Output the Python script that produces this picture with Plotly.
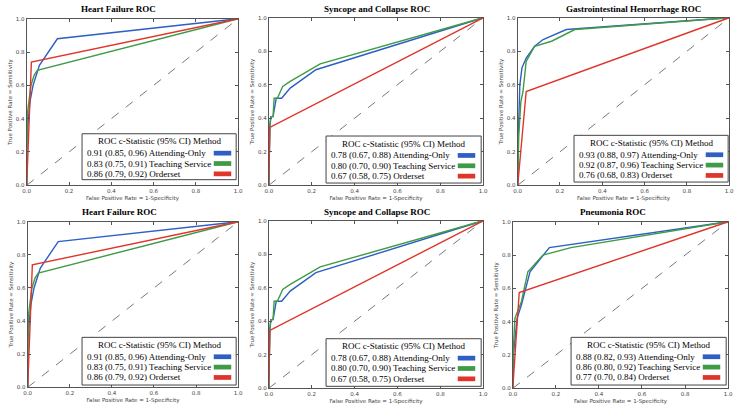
import plotly.graph_objects as go

W, H = 745, 411

# ---------------- data ----------------
titles = ["Heart Failure ROC", "Syncope and Collapse ROC", "Gastrointestinal Hemorrhage ROC",
          "Heart Failure ROC", "Syncope and Collapse ROC", "Pneumonia ROC"]
methods = ["Attending-Only", "Teaching Service", "Orderset"]
tick_vals = [0.0, 0.2, 0.4, 0.6, 0.8, 1.0]
tick_text = ["0.0", "0.2", "0.4", "0.6", "0.8", "1.0"]

hf_att_fpr = [0.0, 0.0, 0.015, 0.03, 0.06, 0.145, 1.0]
hf_att_tpr = [0.0, 0.28, 0.5, 0.6, 0.72, 0.88, 1.0]
hf_teach_fpr = [0.0, 0.003, 0.02, 0.035, 0.05, 1.0]
hf_teach_tpr = [0.0, 0.43, 0.6, 0.66, 0.69, 1.0]
hf_order_fpr = [0.0, 0.02, 0.022, 1.0]
hf_order_tpr = [0.0, 0.6, 0.74, 1.0]
hf_stats = ["0.91 (0.85, 0.96)", "0.83 (0.75, 0.91)", "0.86 (0.79, 0.92)"]

sc_att_fpr = [0.0, 0.005, 0.01, 0.02, 0.035, 0.06, 0.1, 0.22, 1.0]
sc_att_tpr = [0.0, 0.35, 0.41, 0.41, 0.52, 0.52, 0.58, 0.69, 1.0]
sc_teach_fpr = [0.0, 0.005, 0.01, 0.02, 0.025, 0.04, 0.065, 0.1, 0.24, 1.0]
sc_teach_tpr = [0.0, 0.36, 0.41, 0.41, 0.52, 0.52, 0.59, 0.62, 0.725, 1.0]
sc_order_fpr = [0.0, 0.005, 1.0]
sc_order_tpr = [0.0, 0.345, 1.0]
sc_stats = ["0.78 (0.67, 0.88)", "0.80 (0.70, 0.90)", "0.67 (0.58, 0.75)"]

gi_att_fpr = [0.0, 0.003, 0.01, 0.02, 0.04, 0.08, 0.12, 0.23, 1.0]
gi_att_tpr = [0.0, 0.3, 0.6, 0.7, 0.76, 0.83, 0.87, 0.93, 1.0]
gi_teach_fpr = [0.0, 0.005, 0.015, 0.025, 0.04, 0.08, 0.16, 0.27, 1.0]
gi_teach_tpr = [0.0, 0.3, 0.5, 0.56, 0.74, 0.83, 0.86, 0.93, 1.0]
gi_order_fpr = [0.0, 0.04, 1.0]
gi_order_tpr = [0.0, 0.56, 1.0]
gi_stats = ["0.93 (0.88, 0.97)", "0.92 (0.87, 0.96)", "0.76 (0.68, 0.83)"]

pn_att_fpr = [0.0, 0.003, 0.02, 0.04, 0.08, 0.17, 1.0]
pn_att_tpr = [0.0, 0.2, 0.42, 0.5, 0.7, 0.845, 1.0]
pn_teach_fpr = [0.0, 0.003, 0.01, 0.04, 0.07, 0.14, 0.27, 1.0]
pn_teach_tpr = [0.0, 0.25, 0.42, 0.52, 0.7, 0.8, 0.845, 1.0]
pn_order_fpr = [0.0, 0.03, 1.0]
pn_order_tpr = [0.0, 0.575, 1.0]
pn_stats = ["0.88 (0.82, 0.93)", "0.86 (0.80, 0.92)", "0.77 (0.70, 0.84)"]

panels = [
    ([(hf_att_fpr, hf_att_tpr), (hf_teach_fpr, hf_teach_tpr), (hf_order_fpr, hf_order_tpr)], hf_stats),
    ([(sc_att_fpr, sc_att_tpr), (sc_teach_fpr, sc_teach_tpr), (sc_order_fpr, sc_order_tpr)], sc_stats),
    ([(gi_att_fpr, gi_att_tpr), (gi_teach_fpr, gi_teach_tpr), (gi_order_fpr, gi_order_tpr)], gi_stats),
    ([(hf_att_fpr, hf_att_tpr), (hf_teach_fpr, hf_teach_tpr), (hf_order_fpr, hf_order_tpr)], hf_stats),
    ([(sc_att_fpr, sc_att_tpr), (sc_teach_fpr, sc_teach_tpr), (sc_order_fpr, sc_order_tpr)], sc_stats),
    ([(pn_att_fpr, pn_att_tpr), (pn_teach_fpr, pn_teach_tpr), (pn_order_fpr, pn_order_tpr)], pn_stats),
]

# ---------------- layout geometry (pixels) ----------------
colors = ["#2d5fc4", "#3f9b45", "#e0352b"]
# axes boxes: x0, x1, ytop, ybottom
boxes = [(23, 237, 16, 185), (268, 485, 15, 185), (520, 734, 15, 185),
         (24, 237, 222, 390), (268, 485, 221, 391), (515, 733, 222, 391)]
title_cx = [116, 378, 637, 117, 378, 616]
title_cy = [6, 6, 6, 212, 212, 212]
# legend boxes: left, right, top, bottom
leg_boxes = [(79, 235, 132.7, 179.3), (326, 483, 135, 182.7), (577, 733, 134.3, 181.7),
             (79, 235, 339.3, 387.7), (326, 483, 340.7, 389), (574, 731, 339.3, 387.7)]


def fx(x):
    return x / W


def fy(y):
    return 1 - y / H


fig = go.Figure()
shapes = []
annotations = []
layout = dict(width=W, height=H, autosize=False, margin=dict(l=0, r=0, t=0, b=0),
              paper_bgcolor="white", plot_bgcolor="white", showlegend=False)

axis_font = dict(family="DejaVu Sans", size=5.5, color="#444")
frame_col = "#555"

for i, ((curves, stats), box) in enumerate(zip(panels, boxes)):
    n = i + 1
    xa = f"x{n}" if n > 1 else "x"
    ya = f"y{n}" if n > 1 else "y"
    x0, x1, yt, yb = box
    common = dict(range=[0, 1], tickvals=tick_vals, ticktext=tick_text, ticks="inside",
                  ticklen=3, tickcolor=frame_col, tickwidth=0.8, showgrid=False, zeroline=False,
                  showline=True, linecolor=frame_col, linewidth=1, mirror="ticks",
                  tickfont=axis_font, fixedrange=True)
    layout[f"xaxis{n}" if n > 1 else "xaxis"] = dict(
        common, domain=[fx(x0), fx(x1)], anchor=ya,
        title=dict(text="False Positive Rate = 1-Specificity", font=axis_font, standoff=3))
    layout[f"yaxis{n}" if n > 1 else "yaxis"] = dict(
        common, domain=[fy(yb), fy(yt)], anchor=xa,
        title=dict(text="True Positive Rate = Sensitivity", font=axis_font, standoff=2))

    # diagonal reference
    fig.add_trace(go.Scatter(x=[0, 1], y=[0, 1], mode="lines", xaxis=xa, yaxis=ya,
                             line=dict(color="#555", width=0.8, dash="dash"), hoverinfo="skip"))
    for (fpr, tpr), c, m in zip(curves, colors, methods):
        fig.add_trace(go.Scatter(x=fpr, y=tpr, mode="lines", xaxis=xa, yaxis=ya, name=m,
                                 line=dict(color=c, width=1.4)))

    # subplot title
    annotations.append(dict(text=f"<b>{titles[i]}</b>", x=fx(title_cx[i]), y=fy(title_cy[i]),
                            xref="paper", yref="paper", showarrow=False, xanchor="center",
                            yanchor="middle",
                            font=dict(family="Liberation Serif", size=9, color="black")))

    # legend box
    lx0, lx1, lt, lb = leg_boxes[i]
    shapes.append(dict(type="rect", xref="paper", yref="paper", x0=fx(lx0), x1=fx(lx1),
                       y0=fy(lb), y1=fy(lt), line=dict(color="#444", width=1),
                       fillcolor="white", layer="above"))
    leg_font = dict(family="Liberation Serif", size=9, color="black")
    annotations.append(dict(text="ROC c-Statistic (95% CI) Method", x=fx((lx0 + lx1) / 2),
                            y=fy(lt + 7.7), xref="paper", yref="paper", showarrow=False,
                            xanchor="center", yanchor="middle", font=leg_font))
    for k, (s, m, c) in enumerate(zip(stats, methods, colors)):
        ry = lt + 19.7 + k * 10.5
        annotations.append(dict(text=f"{s} {m}", x=fx(lx0 + 3.3), y=fy(ry), xref="paper",
                                yref="paper", showarrow=False, xanchor="left", yanchor="middle",
                                font=leg_font))
        shapes.append(dict(type="rect", xref="paper", yref="paper", x0=fx(lx0 + 133.3),
                           x1=fx(lx0 + 151), y0=fy(ry + 2.4), y1=fy(ry - 2.4),
                           line=dict(width=0), fillcolor=c, layer="above"))

layout["shapes"] = shapes
layout["annotations"] = annotations
fig.update_layout(**layout)
fig.write_html("out.html", config={"displayModeBar": False},
               post_script="document.body.style.margin='0px';document.body.style.overflow='hidden';")
